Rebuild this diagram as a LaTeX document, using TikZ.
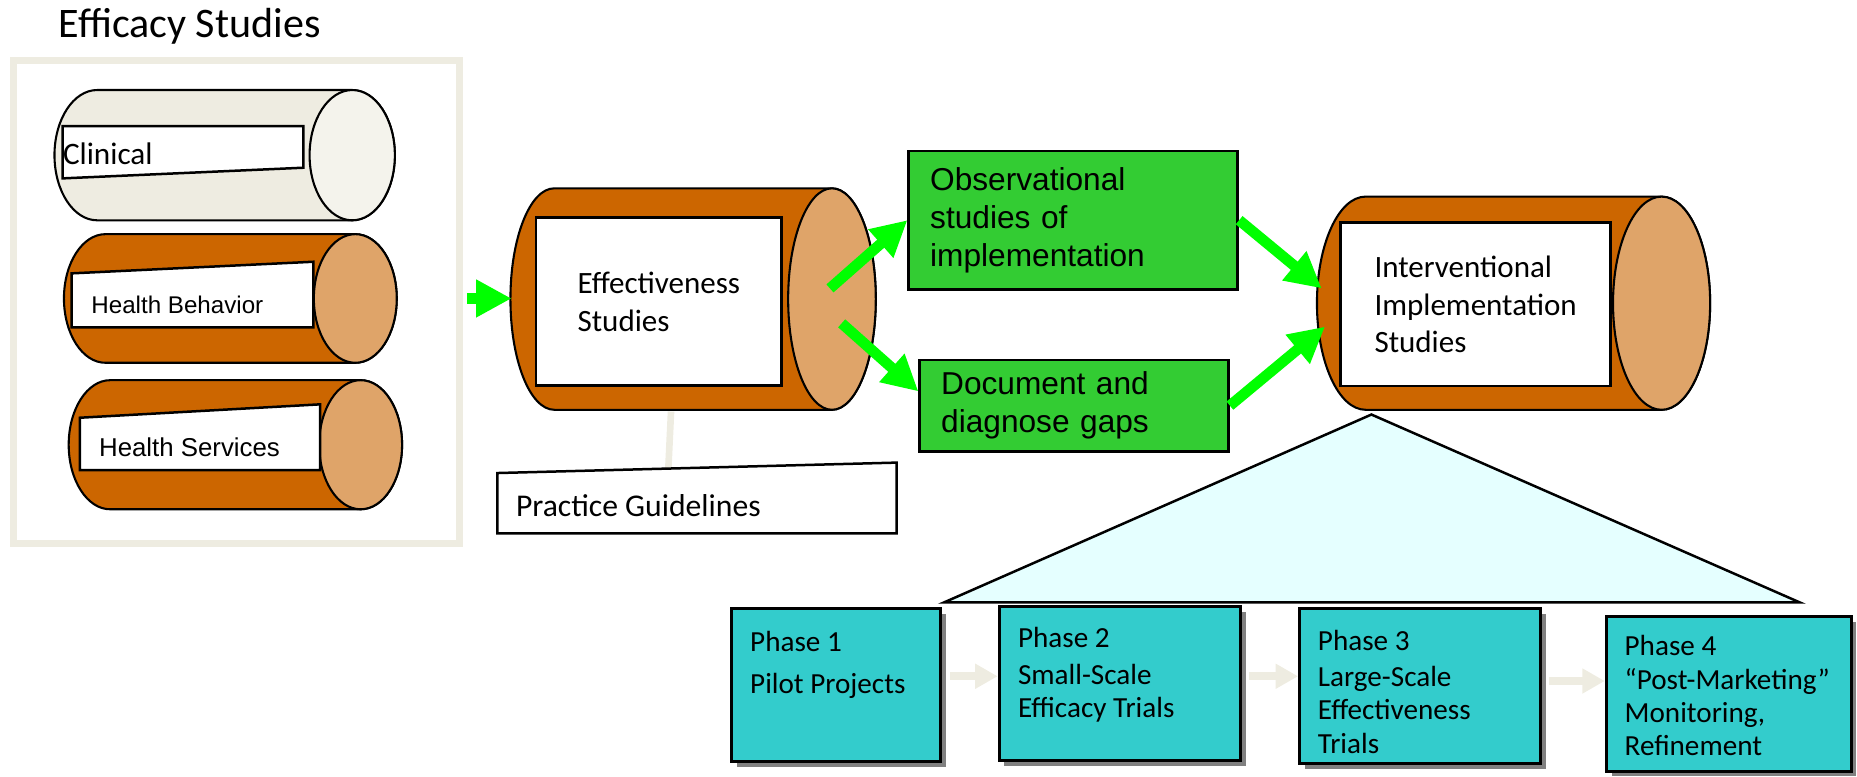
\documentclass[tikz,border=0pt]{standalone}
\usepackage{fontspec}
\setmainfont{Carlito}
\newfontfamily\arialfont{Liberation Sans}
\usetikzlibrary{arrows.meta,positioning,shadows}

\definecolor{framecol}{HTML}{EEECE1}
\definecolor{paleend}{HTML}{F4F3EC}
\definecolor{tubebody}{HTML}{CC6600}
\definecolor{tubeend}{HTML}{DFA469}
\definecolor{boxgreen}{HTML}{33CC33}
\definecolor{arrowgreen}{HTML}{00FF00}
\definecolor{phasefill}{HTML}{33CCCC}
\definecolor{tentfill}{HTML}{E5FFFF}

% cylinder lying on its side: left centre, right centre, centre y, x radius, y radius, body, end
\newcommand{\tube}[7]{%
  \draw[tubeline, fill=#6] (#2,#3-#5) -- (#1,#3-#5)
    arc[start angle=270, end angle=90, x radius=#4, y radius=#5] -- (#2,#3+#5)
    arc[start angle=90, end angle=-90, x radius=#4, y radius=#5] -- cycle;
  \draw[tubeline, fill=#7] (#2,#3) ellipse[x radius=#4, y radius=#5];
}

\tikzset{
  tubeline/.style={draw=black, line width=0.5pt},
  labelbox/.style={draw=black, fill=white, line width=0.6pt},
  greenbox/.style={draw=black, fill=boxgreen, line width=0.7pt, align=left,
    font=\arialfont\fontsize{7.6}{9.1}\selectfont, inner xsep=0.18cm, inner ysep=0pt},
  phasebox/.style={draw=black, fill=phasefill, line width=0.7pt,
    drop shadow={shadow xshift=0.045cm, shadow yshift=-0.045cm, fill=gray, opacity=1}},
  phasetext/.style={font=\fontsize{7}{7.97}\selectfont, align=left, inner sep=0pt},
  greenarrow/.style={draw=arrowgreen, line width=0.09cm, -{Triangle[width=0.3cm, length=0.3cm]}},
  phasearrow/.style={draw=framecol, line width=0.07cm, -{Triangle[width=0.2cm, length=0.19cm]}},
}

\begin{document}
\begin{tikzpicture}[x=0.01cm, y=-0.01cm]
    \useasboundingbox (0,0) rectangle (1568,656);

    % efficacy group
    \node[anchor=base west, inner sep=0pt, font=\fontsize{10.1}{12}\selectfont] (title) at (49,31.8) {Efficacy Studies};
    \node[draw=framecol, line width=0.06cm, minimum width=3.765cm, minimum height=4.075cm] (efficacy) at (199.75,255.25) {};

    \tube{82}{297.4}{131}{36}{55}{framecol}{paleend}
    \tube{89}{300}{252}{35}{54.3}{tubebody}{tubeend}
    \tube{93}{304.5}{375.5}{35}{54.5}{tubebody}{tubeend}

    \draw[labelbox] (52.9,106.4) -- (256.1,106.4) -- (256.1,141.6) -- (52.9,150.6) -- cycle;
    \draw[labelbox] (60.5,230.8) -- (264.6,221) -- (264.6,276.4) -- (60.5,276.4) -- cycle;
    \draw[labelbox] (67.5,352.7) -- (270.2,341.4) -- (270.2,397) -- (67.5,397) -- cycle;
    \node[anchor=base west, inner sep=0pt, font=\fontsize{7.5}{9}\selectfont] (clinical) at (52.5,139.3) {Clinical};
    \node[anchor=base west, inner sep=0pt, font=\arialfont\fontsize{5.8}{7}\selectfont] (behavior) at (76.5,264.6) {Health Behavior};
    \node[anchor=base west, inner sep=0pt, font=\arialfont\fontsize{6.2}{7}\selectfont] (services) at (83,385.6) {Health Services};

    % effectiveness
    \tube{468}{702.5}{252.5}{37}{93.5}{tubebody}{tubeend}
    \node[labelbox, align=left, font=\fontsize{7.45}{9.05}\selectfont, minimum width=2.074cm, minimum height=1.418cm] (eff) at (556.3,254.7) {Effectiveness\\Studies};

    \coordinate (effbottom) at (566.6,347.5);
    \coordinate (pgtop) at (564.3,396);
    \draw[draw=framecol, line width=0.056cm] (effbottom) -- (pgtop);
    \draw[labelbox] (420,399.4) -- (757,390.6) -- (757,450.4) -- (420,450.4) -- cycle;
    \node[anchor=base west, inner sep=0pt, font=\fontsize{7.6}{9}\selectfont] (guidelines) at (435,436.4) {Practice Guidelines};

    % observational and gaps
    \node[greenbox, text width=2.415cm, minimum height=1.168cm] (obs) at (906.25,185.9) {Observational\\studies of\\implementation};
    \node[greenbox, text width=2.244cm, minimum height=0.77cm] (doc) at (907,342.5) {Document and\\diagnose gaps};

    % interventional
    \tube{1153}{1403}{256}{41}{90}{tubebody}{tubeend}
    \node[labelbox, align=left, font=\fontsize{7.45}{9.1}\selectfont, minimum width=2.28cm, minimum height=1.38cm] (interv) at (1246,257) {Interventional\\Implementation\\Studies};

    \coordinate (effleft) at (432,252);
    \coordinate (efftail1) at (700.8,243.5);
    \coordinate (efftail2) at (710.7,273);
    \coordinate (intvin1) at (1116,243.5);
    \coordinate (intvin2) at (1118.8,275.8);

    \draw[greenarrow, shorten <=0.03cm] (effleft -| efficacy.east) -- (effleft);
    \draw[greenarrow] (efftail1) -- (obs.west);
    \draw[greenarrow] (efftail2) -- ([yshift=0.12cm]doc.west);
    \draw[greenarrow] (obs.east) -- (intvin1);
    \draw[greenarrow] (doc.east) -- (intvin2);

    % phases
    \coordinate (apex) at (1158,350);
    \coordinate (tentL) at (797,508.7);
    \coordinate (tentR) at (1519.8,508.7);
    \draw[fill=tentfill, line width=0.6pt] (apex) -- (tentR) -- (tentL) -- cycle;

    \node[phasebox, minimum width=1.759cm, minimum height=1.292cm] (p1) at (705.95,578.4) {};
    \node[phasebox, minimum width=2.037cm, minimum height=1.296cm] (p2) at (945.55,577.2) {};
    \node[phasebox, minimum width=2.033cm, minimum height=1.312cm] (p3) at (1199.05,579.4) {};
    \node[phasebox, minimum width=2.066cm, minimum height=1.302cm] (p4) at (1459.7,585.9) {};

    \node[phasetext, below right=0.2cm and 0.16cm of p1.north west] (p1t) {Phase 1\\[0.07cm]Pilot Projects};
    \node[phasetext, below right=0.18cm and 0.165cm of p2.north west] (p2t) {Phase 2\\[0.03cm]Small-Scale\\Efficacy Trials};
    \node[phasetext, below right=0.185cm and 0.16cm of p3.north west] (p3t) {Phase 3\\[0.03cm]Large-Scale\\Effectiveness\\Trials};
    \node[phasetext, below right=0.165cm and 0.16cm of p4.north west] (p4t) {Phase 4\\``Post-Marketing''\\Monitoring,\\Refinement};

    \coordinate (p12) at (802,571);
    \coordinate (p23) at (1055,571);
    \coordinate (p34) at (1308,575);
    \draw[phasearrow] (p12) -- (p12 -| p2.west);
    \draw[phasearrow] (p23) -- (p23 -| p3.west);
    \draw[phasearrow] (p34) -- (p34 -| p4.west);

\end{tikzpicture}
\end{document}
